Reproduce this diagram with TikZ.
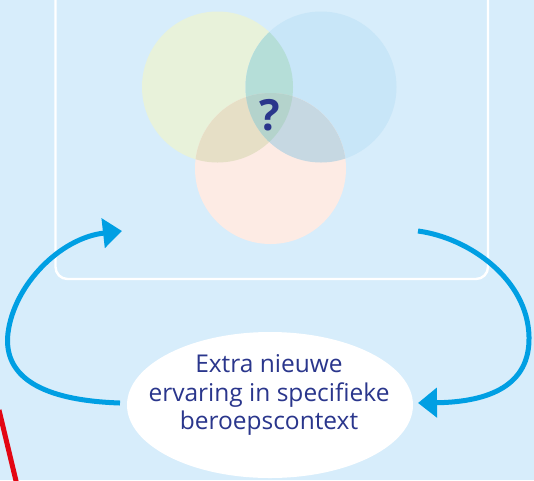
\documentclass[tikz,border=0pt]{standalone}
\usepackage{fontspec}
\setmainfont{Open Sans}
\usetikzlibrary{arrows.meta,shapes.geometric}
\definecolor{bg}{RGB}{215,237,251}
\definecolor{cgreen}{RGB}{232,242,218}
\definecolor{cblue}{RGB}{200,230,248}
\definecolor{cpink}{RGB}{253,235,228}
\definecolor{cgb}{RGB}{181,222,216}
\definecolor{cgp}{RGB}{230,223,198}
\definecolor{cbp}{RGB}{198,216,226}
\definecolor{call}{RGB}{180,211,204}
\definecolor{navy}{RGB}{42,54,140}
\definecolor{arrblue}{RGB}{0,159,227}
\definecolor{redline}{RGB}{227,6,19}
\begin{document}
\begin{tikzpicture}[x=1pt,y=-1pt,
  arr/.style={draw=arrblue,line width=5pt,-{Triangle[length=19pt,width=29pt]}},
  frame/.style={draw=white,line width=2.4pt,rounded corners=12pt},
  txt/.style={text=navy,align=center,font=\fontsize{24.5}{28.5}\selectfont}]
\useasboundingbox (0,0) rectangle (534,480);
\fill[bg] (0,0) rectangle (534,480);
% red line
\coordinate (r1) at (-1,410);
\coordinate (r2) at (17,485);
\draw[redline,line width=5pt] (r1) -- (r2);
% frame
\draw[frame] (55.5,-30) rectangle (488,279);
% circles
\coordinate (cg) at (217.5,87);
\coordinate (cb) at (321,87);
\coordinate (cp) at (270.5,168.5);
\fill[cgreen] (cg) circle (75.5pt);
\fill[cblue] (cb) circle (75.5pt);
\fill[cpink] (cp) circle (75.5pt);
\begin{scope}
  \clip (cg) circle (75.5pt);
  \fill[cgb] (cb) circle (75.5pt);
  \fill[cgp] (cp) circle (75.5pt);
\end{scope}
\begin{scope}
  \clip (cb) circle (75.5pt);
  \fill[cbp] (cp) circle (75.5pt);
  \clip (cg) circle (75.5pt);
  \fill[call] (cp) circle (75.5pt);
\end{scope}
\node[text=navy,font=\fontsize{43}{43}\bfseries\selectfont] (q) at (270,115) {?};
% ellipse
\node[ellipse,fill=white,minimum width=286pt,minimum height=146pt,inner sep=0pt] (exp) at (270,405) {};
\node[txt] (exptext) at (269,395) {Extra nieuwe\\ervaring in specifieke\\beroepscontext};
% arrows
\coordinate (lstart) at (120,403);
\coordinate (ltip) at (122,231);
\coordinate (rstart) at (418,231);
\coordinate (rtip) at (418,403);
\draw[arr] (lstart) .. controls (30,400) and (3.5,370) .. (8,333) .. controls (14,285) and (60,238) .. (ltip);
\draw[arr] (rstart) .. controls (470,238) and (528,280) .. (529,337) .. controls (530,385) and (490,402) .. (rtip);
\end{tikzpicture}
\end{document}
